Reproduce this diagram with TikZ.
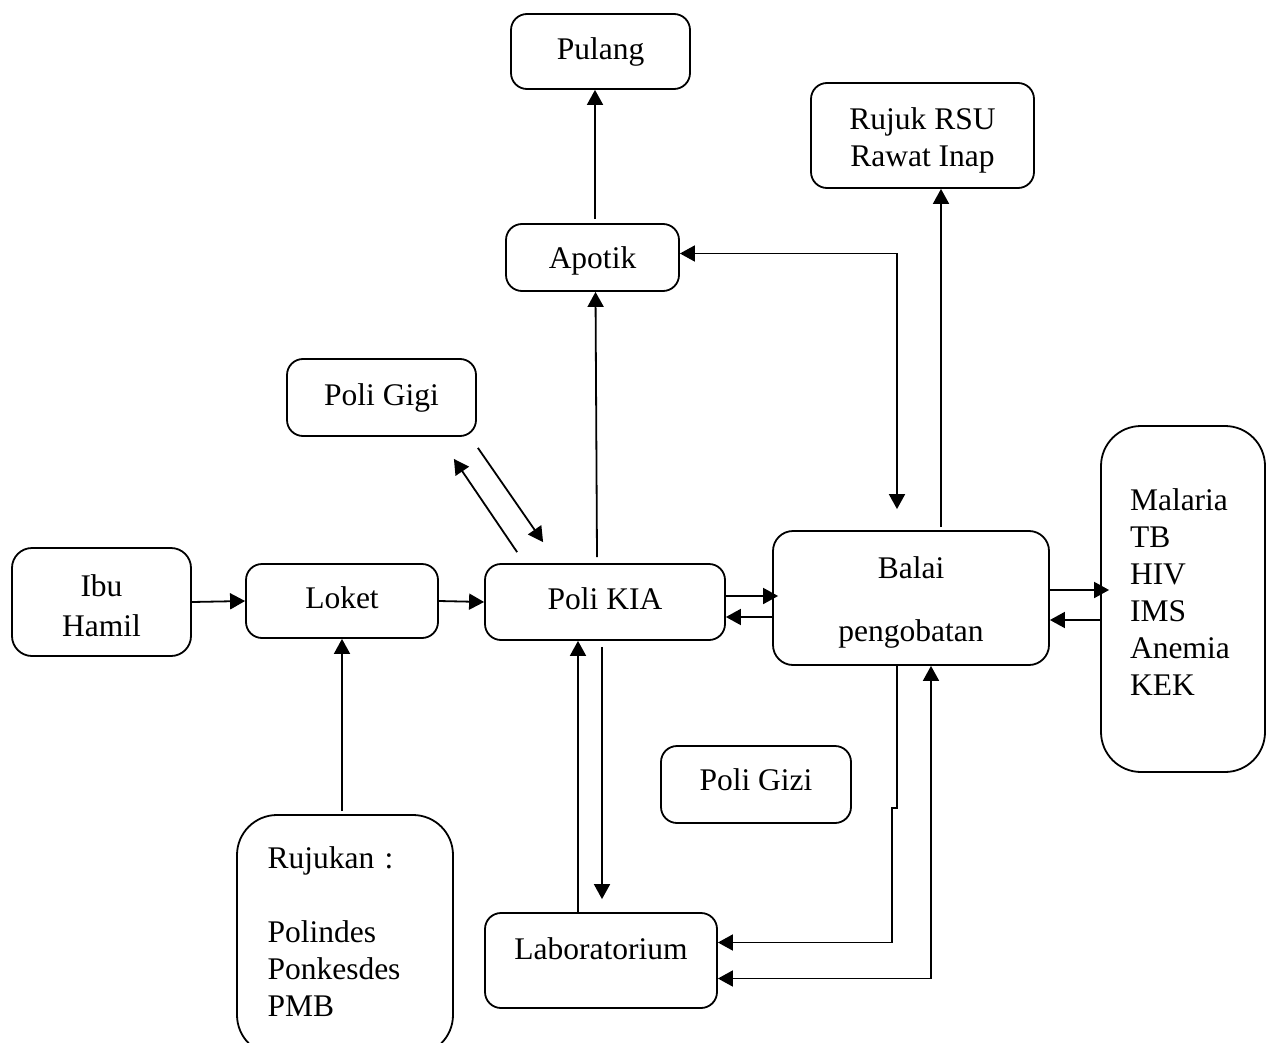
\documentclass[tikz,border=0pt]{standalone}
\usepackage{fontspec}
\setmainfont{Liberation Serif}
\usetikzlibrary{arrows.meta,calc}
\begin{document}
\begin{tikzpicture}[x=1pt,y=-1pt,
  box/.style={draw,line width=1.8pt,rounded corners=16pt,inner sep=0pt,align=center,
              font=\fontsize{31.5}{37}\selectfont},
  arr/.style={line width=1.8pt,-{Triangle[length=15pt,width=16pt]}},
  arrb/.style={line width=1.8pt,{Triangle[length=15pt,width=16pt]}-{Triangle[length=15pt,width=16pt]}}]
\useasboundingbox (0,0) rectangle (1266,1043);

% boxes
\node[box,minimum width=179pt,minimum height=75pt] (pul) at (600.5,51.5) {Pulang};
\node[box,minimum width=223pt,minimum height=105pt] (rsu) at (922.5,135.5) {\rule{0pt}{32pt}Rujuk RSU\\Rawat Inap};
\node[box,minimum width=173pt,minimum height=67pt,text height=29.5pt] (apo) at (592.5,257.5) {Apotik};
\node[box,minimum width=189pt,minimum height=77pt] (gigi) at (381.5,397.5) {Poli Gigi};
\node[box,minimum width=179pt,minimum height=108pt,rounded corners=20pt] (ibu) at (101.5,602) {\rule{0pt}{30pt}Ibu\\[3pt]Hamil};
\node[box,minimum width=192pt,minimum height=74pt,text depth=6pt] (lok) at (342,601) {Loket};
\node[box,minimum width=240pt,minimum height=76pt,text depth=6pt] (kia) at (605,602) {Poli KIA};
\node[box,minimum width=276pt,minimum height=134pt,rounded corners=20pt] (balai) at (911,598) {\rule{0pt}{30pt}Balai\\[26pt]pengobatan};
\node[box,minimum width=164pt,minimum height=346pt,rounded corners=40pt,text width=106pt,align=left] (mal) at (1183,599)
  {Malaria\\TB\\HIV\\IMS\\Anemia\\KEK\rule[-14pt]{0pt}{14pt}};
\node[box,minimum width=190pt,minimum height=77pt,text depth=10pt] (gizi) at (756,784.5) {Poli Gizi};
\node[box,minimum width=232pt,minimum height=95pt,text depth=24pt] (lab) at (601,960.5) {Laboratorium};
\node[box,minimum width=216pt,minimum height=240pt,rounded corners=40pt,text width=155pt,align=left] (ruj) at (345,935)
  {Rujukan :\\[37pt]Polindes\\Ponkesdes\\PMB\rule[-6pt]{0pt}{6pt}};

% connectors
\draw[arr] (ibu.east) -- (lok.west);
\draw[arr] (lok.east) -- (kia.west);
\draw[arr] ([yshift=3pt]lok.south |- ruj.north) -- (lok.south);
\draw[arr] ([xshift=-8pt,yshift=6pt]kia.north) -- ([xshift=3pt]apo.south);
\draw[arr] ([xshift=2.5pt,yshift=4pt]apo.north) -- ([xshift=2.5pt]apo.north |- pul.south);
\draw[arrb] ([yshift=4pt]apo.east) -| ([xshift=-14pt,yshift=21pt]balai.north);
\draw[arr] ([xshift=30pt,yshift=3pt]balai.north) -- ([xshift=30pt]balai.north |- rsu.south);

\coordinate (g1) at ($(kia.north west)+(33,-11)$);
\coordinate (g2) at ($(gigi.south east)+(-23,22)$);
\coordinate (g3) at ($(gigi.south east)+(1,11)$);
\coordinate (g4) at ($(kia.north west)+(59,-21)$);
\draw[arr] (g1) -- (g2);
\draw[arr] (g3) -- (g4);

\draw[arr] ([yshift=6pt]kia.east) -- ([yshift=6pt,xshift=6pt]kia.east -| balai.west);
\draw[arr] ([yshift=-19pt]balai.west) -- ([yshift=-19pt]balai.west -| kia.east);

\draw[arr] ([yshift=8pt]balai.east) -- ([yshift=8pt,xshift=9pt]balai.east -| mal.west);
\draw[arr] ([yshift=-22pt]balai.east -| mal.west) -- ([yshift=-22pt]balai.east);

\draw[arr] ([xshift=-23pt]lab.north) -- ([xshift=-23pt]lab.north |- kia.south);
\draw[arr] ([xshift=-3pt,yshift=-6pt]kia.south) -- ([xshift=-3pt,yshift=13pt]kia.south |- lab.north);

\draw[arr] ([xshift=-14pt]balai.south) -- ++(0,142) -- ++(-5,0) |- ([yshift=18pt]lab.east);
\draw[arrb] ([yshift=-18pt]lab.east) -| ([xshift=20pt]balai.south);
\end{tikzpicture}
\end{document}
